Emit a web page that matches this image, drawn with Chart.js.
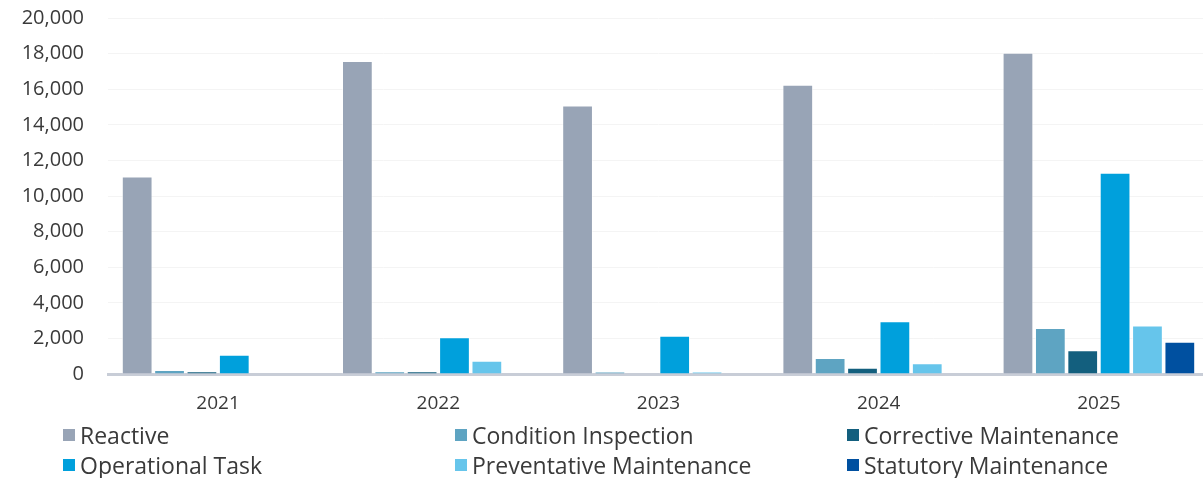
<!DOCTYPE html>
<html>
<head>
<meta charset="utf-8">
<script src="https://cdn.jsdelivr.net/npm/chart.js@4/dist/chart.umd.min.js"></script>
<style>
  html, body { margin: 0; padding: 0; background: #fff; overflow: hidden; }
  #wrap { position: relative; width: 1203px; height: 478px; overflow: hidden; }
  #chart-box { position: absolute; left: 0; top: -18px; width: 1209px; height: 438px; }
  #legend {
    position: absolute; left: 63px; top: 420px;
    display: grid; grid-template-columns: 392px 392px 392px; grid-auto-rows: 30px;
    font-family: "Open Sans", "Noto Sans", sans-serif; font-size: 23px; color: #3a3a3a;
  }
  .lg-item { display: flex; align-items: center; white-space: nowrap; }
  .lg-box { width: 12px; height: 12px; margin-right: 5px; }
</style>
</head>
<body>
<div id="wrap">
  <div id="chart-box"><canvas id="bar-chart"></canvas></div>
  <div id="legend"></div>
</div>
<script>
const years = ['2021', '2022', '2023', '2024', '2025'];

const reactive    = [11100, 17580, 15080, 16250, 18050];
const condition   = [220, 150, 130, 900, 2580];
const corrective  = [150, 150, 0, 350, 1330];
const operational = [1080, 2070, 2150, 2970, 11310];
const preventive  = [30, 750, 130, 600, 2730];
const statutory   = [0, 0, 0, 0, 1810];

const seriesNames  = ['Reactive', 'Condition Inspection', 'Corrective Maintenance',
                      'Operational Task', 'Preventative Maintenance', 'Statutory Maintenance'];
const seriesData   = [reactive, condition, corrective, operational, preventive, statutory];
const seriesColors = ['#98a4b6', '#5ea4c2', '#135f7e', '#00a0dc', '#66c5eb', '#0050a0'];

const yTicks = [0, 2000, 4000, 6000, 8000, 10000, 12000, 14000, 16000, 18000, 20000];

const FONT = '"Open Sans", "Noto Sans", sans-serif';

const datasets = seriesNames.map((name, i) => ({
  label: name,
  data: seriesData[i],
  backgroundColor: seriesColors[i],
  borderColor: 'rgba(255,255,255,0.55)',
  borderWidth: 1,
  borderSkipped: 'bottom',
  categoryPercentage: 0.882,
  barPercentage: 0.95,
}));

new Chart(document.getElementById('bar-chart').getContext('2d'), {
  type: 'bar',
  data: { labels: years, datasets },
  options: {
    responsive: true, maintainAspectRatio: false, animation: false,
    layout: { padding: 0 },
    plugins: { legend: { display: false }, tooltip: { enabled: false } },
    scales: {
      y: {
        min: 0, max: 20000,
        afterBuildTicks: s => { s.ticks = yTicks.map(v => ({ value: v })); },
        afterFit: s => { s.width = 108; },
        grid: { color: '#f4f4f4', lineWidth: 1, drawTicks: false },
        border: { display: false },
        ticks: {
          padding: 24, color: '#3a3a3a', font: { family: FONT, size: 20 },
          callback: v => v.toLocaleString('en-US'),
        },
      },
      x: {
        afterFit: s => { s.height = 46; },
        grid: { display: false, drawTicks: false },
        border: { color: '#c8cdd7', width: 3 },
        ticks: { padding: 18, color: '#3a3a3a', font: { family: FONT, size: 19 } },
      },
    },
  },
});

// legend: three columns, two rows
document.getElementById('legend').innerHTML = seriesNames.map((name, i) =>
  `<div class="lg-item"><span class="lg-box" style="background:${seriesColors[i]}"></span>${name}</div>`
).join('');
</script>
</body>
</html>
